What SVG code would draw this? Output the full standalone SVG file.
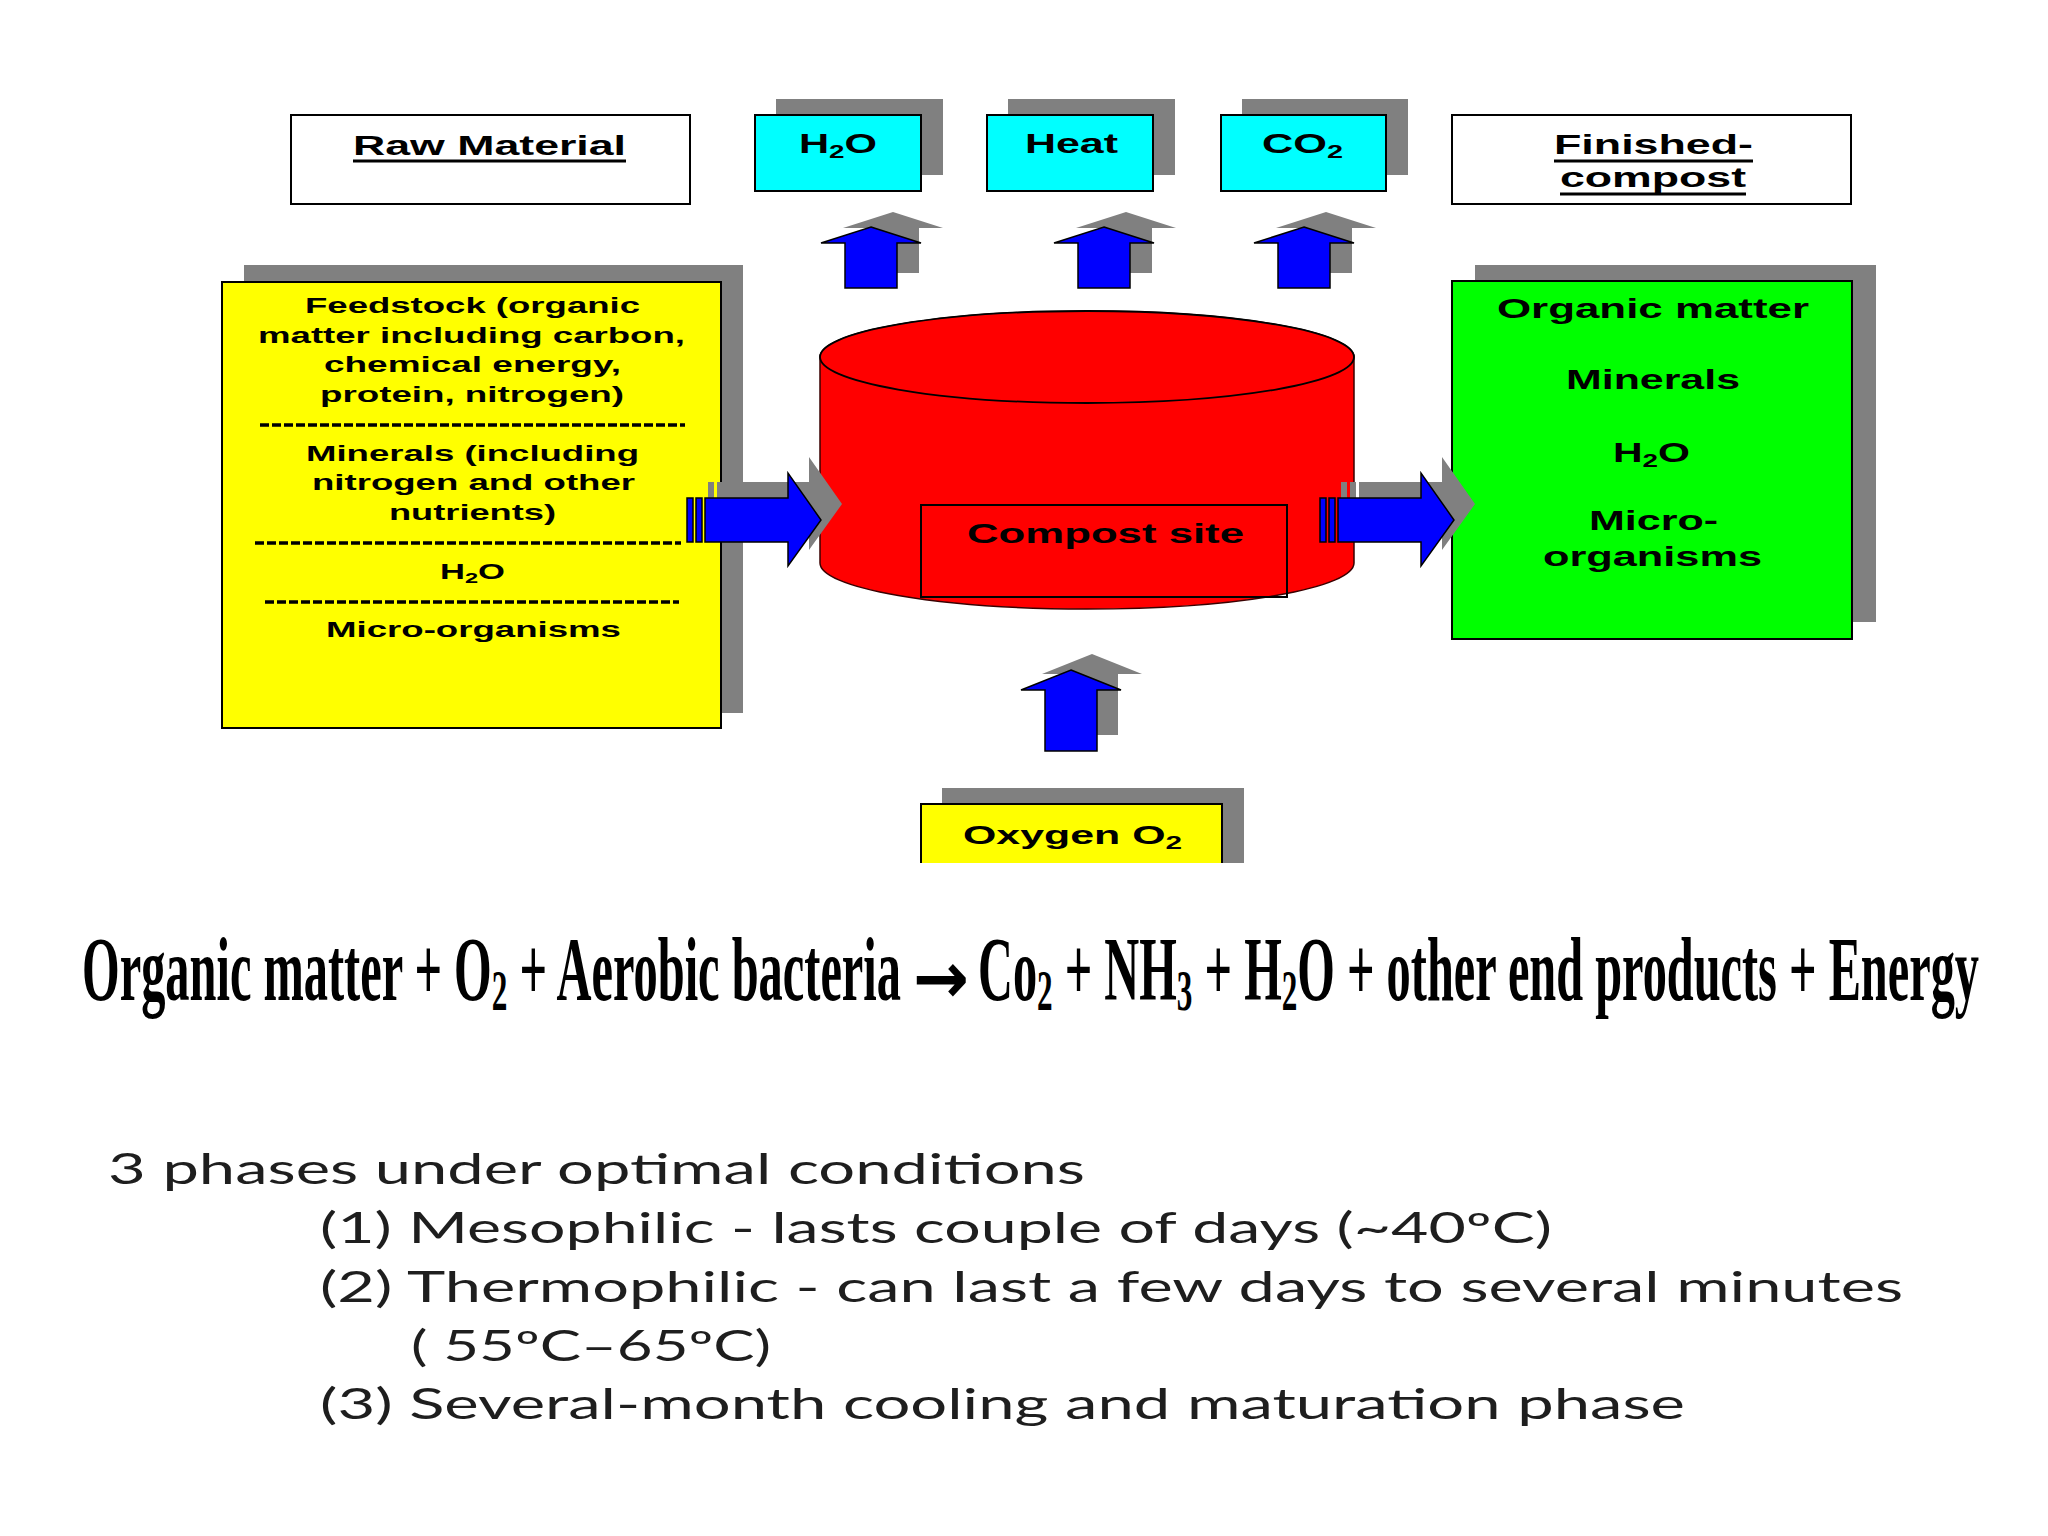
<svg xmlns="http://www.w3.org/2000/svg" xmlns:xlink="http://www.w3.org/1999/xlink" width="2048" height="1536" viewBox="0 0 2048 1536">
<style>
.lbl{font-family:"Liberation Sans",Arial,sans-serif;font-weight:bold;fill:#000}
.shadow{fill:#808080}
.box{stroke:#000;stroke-width:2}
.cyan{fill:#00FFFF}
.yellow{fill:#FFFF00}
.green{fill:#00FF00}
.white{fill:#FFFFFF}
.blue{fill:#0000FF;stroke:#000;stroke-width:1.5}
.dash{stroke:#000;stroke-width:3.5;stroke-dasharray:9 3}
.ul{stroke:#000;stroke-width:3}
.eq{font-family:"Liberation Serif","Times New Roman",serif;font-weight:bold;fill:#000;font-size:90px}
.sub{font-size:58px}
.arr{font-family:"DejaVu Sans",sans-serif;font-weight:bold;fill:#000}
.body{font-family:Lato,"Open Sans",sans-serif;fill:#1e1e1e}
</style>
<defs>
<path id="upS" d="M0,0 L50,16 L26,16 L26,61 L-26,61 L-26,16 L-50,16 Z"/>
<path id="upL" d="M0,0 L50,20 L26,20 L26,81 L-26,81 L-26,20 L-50,20 Z"/>
<g id="rArrow">
<rect x="0" y="-22" width="6" height="44"/>
<rect x="9" y="-22" width="6" height="44"/>
<path d="M18,-22 L101,-22 L101,-47 L134,0 L101,46 L101,22 L18,22 Z"/>
</g>
</defs>
<rect width="2048" height="1536" fill="#FFFFFF"/>

<g id="raw-material">
<rect class="box white" x="291" y="115" width="399" height="89"/>
<text class="lbl" x="353" y="155" font-size="27" textLength="273" lengthAdjust="spacingAndGlyphs">Raw Material</text>
<line class="ul" x1="353" y1="161" x2="626" y2="161"/>
</g>

<g id="h2o-out">
<rect class="shadow" x="776" y="99" width="167" height="76"/>
<rect class="box cyan" x="755" y="115" width="166" height="76"/>
<text class="lbl" x="799" y="153" font-size="27" textLength="78" lengthAdjust="spacingAndGlyphs">H<tspan font-size="18" dy="5">2</tspan><tspan dy="-5">O</tspan></text>
</g>

<g id="heat-out">
<rect class="shadow" x="1008" y="99" width="167" height="76"/>
<rect class="box cyan" x="987" y="115" width="166" height="76"/>
<text class="lbl" x="1025" y="153" font-size="27" textLength="93" lengthAdjust="spacingAndGlyphs">Heat</text>
</g>

<g id="co2-out">
<rect class="shadow" x="1242" y="99" width="166" height="76"/>
<rect class="box cyan" x="1221" y="115" width="165" height="76"/>
<text class="lbl" x="1262" y="153" font-size="27" textLength="81" lengthAdjust="spacingAndGlyphs">CO<tspan font-size="18" dy="5">2</tspan></text>
</g>

<g id="finished-compost">
<rect class="box white" x="1452" y="115" width="399" height="89"/>
<text class="lbl" x="1554" y="154" font-size="27" textLength="199" lengthAdjust="spacingAndGlyphs">Finished-</text>
<line class="ul" x1="1554" y1="161" x2="1753" y2="161"/>
<text class="lbl" x="1560" y="187" font-size="27" textLength="186" lengthAdjust="spacingAndGlyphs">compost</text>
<line class="ul" x1="1560" y1="194" x2="1746" y2="194"/>
</g>

<g id="feedstock">
<rect class="shadow" x="244" y="265" width="499" height="448"/>
<rect class="box yellow" x="222" y="282" width="499" height="446"/>
<text class="lbl" x="305" y="313" font-size="22" textLength="335" lengthAdjust="spacingAndGlyphs">Feedstock (organic</text>
<text class="lbl" x="258" y="343" font-size="22" textLength="427" lengthAdjust="spacingAndGlyphs">matter including carbon,</text>
<text class="lbl" x="324" y="372" font-size="22" textLength="297" lengthAdjust="spacingAndGlyphs">chemical energy,</text>
<text class="lbl" x="320" y="402" font-size="22" textLength="304" lengthAdjust="spacingAndGlyphs">protein, nitrogen)</text>
<line class="dash" x1="260" y1="425" x2="685" y2="425"/>
<text class="lbl" x="306" y="461" font-size="22" textLength="333" lengthAdjust="spacingAndGlyphs">Minerals (including</text>
<text class="lbl" x="312" y="490" font-size="22" textLength="323" lengthAdjust="spacingAndGlyphs">nitrogen and other</text>
<text class="lbl" x="389" y="520" font-size="22" textLength="167" lengthAdjust="spacingAndGlyphs">nutrients)</text>
<line class="dash" x1="255" y1="543" x2="681" y2="543"/>
<text class="lbl" x="440" y="579" font-size="22" textLength="65" lengthAdjust="spacingAndGlyphs">H<tspan font-size="15" dy="4">2</tspan><tspan dy="-4">O</tspan></text>
<line class="dash" x1="265" y1="602" x2="679" y2="602"/>
<text class="lbl" x="326" y="637" font-size="22" textLength="295" lengthAdjust="spacingAndGlyphs">Micro-organisms</text>
</g>

<g id="compost-site">
<path d="M820,357 L820,563 A267,46 0 0 0 1354,563 L1354,357 A267,46 0 0 0 820,357 Z" fill="#FF0000" stroke="#3a0000" stroke-width="1.5"/>
<ellipse cx="1087" cy="357" rx="267" ry="46" fill="#FF0000" stroke="#000" stroke-width="1.8"/>
<rect x="921" y="505" width="366" height="92" fill="none" stroke="#000" stroke-width="2"/>
<text class="lbl" x="967" y="543" font-size="28" textLength="277" lengthAdjust="spacingAndGlyphs">Compost site</text>
</g>

<g id="output-compost">
<rect class="shadow" x="1475" y="265" width="401" height="357"/>
<rect class="box green" x="1452" y="281" width="400" height="358"/>
<text class="lbl" x="1497" y="318" font-size="28" textLength="312" lengthAdjust="spacingAndGlyphs">Organic matter</text>
<text class="lbl" x="1566" y="389" font-size="28" textLength="174" lengthAdjust="spacingAndGlyphs">Minerals</text>
<text class="lbl" x="1613" y="462" font-size="28" textLength="77" lengthAdjust="spacingAndGlyphs">H<tspan font-size="19" dy="5">2</tspan><tspan dy="-5">O</tspan></text>
<text class="lbl" x="1589" y="530" font-size="28" textLength="129" lengthAdjust="spacingAndGlyphs">Micro-</text>
<text class="lbl" x="1543" y="566" font-size="28" textLength="219" lengthAdjust="spacingAndGlyphs">organisms</text>
</g>

<g id="oxygen">
<rect class="shadow" x="942" y="788" width="302" height="75"/>
<rect class="yellow" x="921" y="804" width="301" height="59"/>
<path d="M921,863 L921,804 L1222,804 L1222,863" fill="none" stroke="#000" stroke-width="2"/>
<text class="lbl" x="963" y="844" font-size="26" textLength="219" lengthAdjust="spacingAndGlyphs">Oxygen O<tspan font-size="18" dy="5">2</tspan></text>
</g>

<g id="connectors">
<use xlink:href="#upS" class="shadow" x="893" y="212"/>
<use xlink:href="#upS" class="blue" x="871" y="227"/>
<use xlink:href="#upS" class="shadow" x="1126" y="212"/>
<use xlink:href="#upS" class="blue" x="1104" y="227"/>
<use xlink:href="#upS" class="shadow" x="1326" y="212"/>
<use xlink:href="#upS" class="blue" x="1304" y="227"/>
<use xlink:href="#upL" class="shadow" x="1092" y="654"/>
<use xlink:href="#upL" class="blue" x="1071" y="670"/>
<use xlink:href="#rArrow" class="shadow" x="708" y="504"/>
<use xlink:href="#rArrow" class="blue" x="687" y="520"/>
<use xlink:href="#rArrow" class="shadow" x="1341" y="504"/>
<use xlink:href="#rArrow" class="blue" x="1320" y="520"/>
</g>

<g id="equation">
<text class="eq" x="82" y="1000" textLength="819" lengthAdjust="spacingAndGlyphs">Organic matter + O<tspan class="sub" dy="10">2</tspan><tspan dy="-10"> + Aerobic bacteria</tspan></text>
<text class="arr" x="913" y="1003" font-size="72" textLength="56" lengthAdjust="spacingAndGlyphs">→</text>
<text class="eq" x="978" y="1000" textLength="1001" lengthAdjust="spacingAndGlyphs">Co<tspan class="sub" dy="10">2</tspan><tspan dy="-10"> + NH</tspan><tspan class="sub" dy="10">3</tspan><tspan dy="-10"> + H</tspan><tspan class="sub" dy="10">2</tspan><tspan dy="-10">O + other end products + Energy</tspan></text>
</g>

<g id="phases">
<text class="body" x="108" y="1184" font-size="42" textLength="977" lengthAdjust="spacingAndGlyphs">3 phases under optimal conditions</text>
<text class="body" x="320" y="1243" font-size="42" textLength="1232" lengthAdjust="spacingAndGlyphs">(1) Mesophilic - lasts couple of days (~40ºC)</text>
<text class="body" x="320" y="1302" font-size="42" textLength="1583" lengthAdjust="spacingAndGlyphs">(2) Thermophilic - can last a few days to several minutes</text>
<text class="body" x="411" y="1361" font-size="42" textLength="360" lengthAdjust="spacingAndGlyphs">( 55ºC–65ºC)</text>
<text class="body" x="320" y="1419" font-size="42" textLength="1365" lengthAdjust="spacingAndGlyphs">(3) Several-month cooling and maturation phase</text>
</g>
</svg>
